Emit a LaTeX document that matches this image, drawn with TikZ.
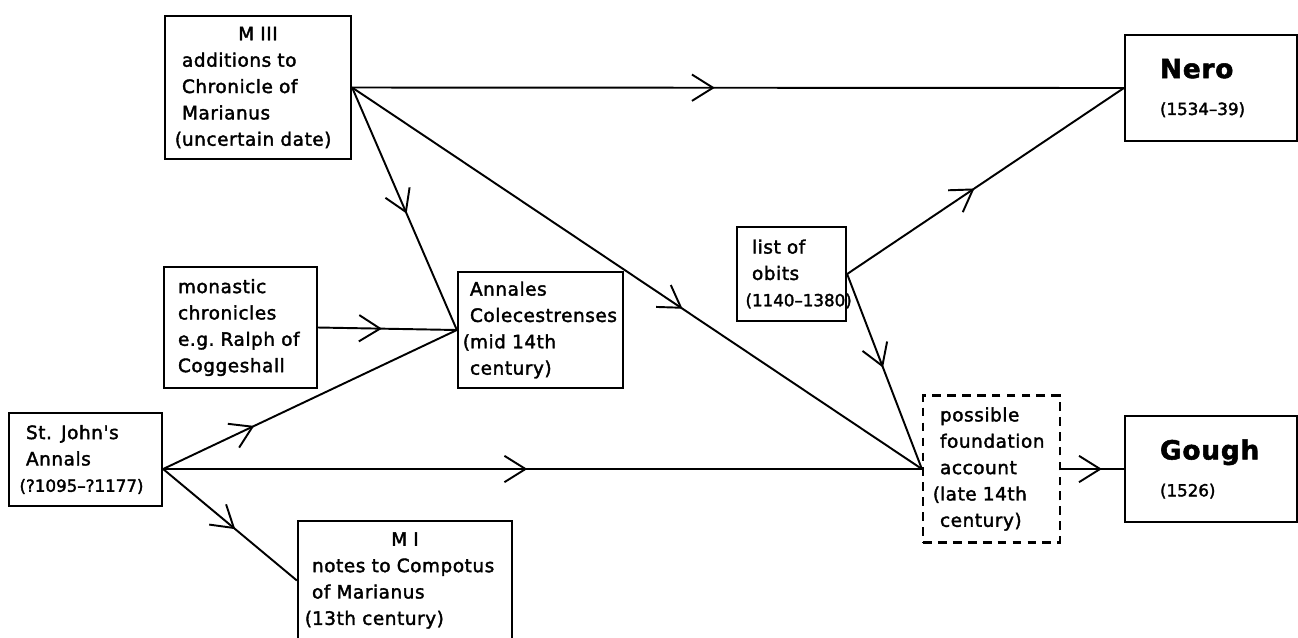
\documentclass[tikz,border=0pt]{standalone}
\usepackage{fontspec}
\newfontfamily\lettering{DejaVu Sans}[LetterSpace=3.0, FakeBold=2]
\usetikzlibrary{arrows.meta,decorations.markings}
\newcommand{\hangparen}{\leavevmode\llap{(}}
\newcommand{\dates}[1]{\mbox{\addfontfeature{LetterSpace=0}\fontsize{9.5}{15}\selectfont#1}}
\tikzset{
  srcbox/.style={draw, line width=1.3pt, align=left, inner ysep=0pt,
    font=\lettering\fontsize{10.5}{15}\selectfont},
  lostbox/.style={srcbox, dash pattern=on 5pt off 3.5pt},
  link/.style={line width=1.1pt},
  midarrow/.style={decoration={markings,
    mark=at position #1 with {\arrow{Straight Barb[length=12pt,width=15pt]}}},
    postaction={decorate}},
}
\begin{document}
\begin{tikzpicture}[x=0.02cm, y=-0.02cm]
\useasboundingbox (0,0) rectangle (1298,637);
% the sources
\node[srcbox, inner xsep=0.34cm, text width=3.04cm, minimum height=2.86cm] (m3) at (258,87.5)
  {\makebox[\hsize]{M III}\\additions to\\Chronicle of\\Marianus\\\hangparen\mbox{uncertain date)}};
\node[srcbox, inner xsep=0.28cm, text width=2.50cm, minimum height=2.42cm] (mon) at (240.5,327.5)
  {monastic\\chronicles\\e.g.\ Ralph of\\Coggeshall};
\node[srcbox, inner xsep=0.24cm, text width=2.82cm, minimum height=2.32cm] (ann) at (540.5,330)
  {Annales\\Colecestrenses\\\hangparen mid 14th\\century)};
\node[srcbox, inner xsep=0.30cm, text width=1.58cm, minimum height=1.88cm] (ob) at (791.5,274)
  {list of\\obits\\\dates{\llap{(}1140–1380)}};
\node[srcbox, inner xsep=0.34cm, text width=2.38cm, minimum height=1.86cm] (sj) at (85.5,459.5)
  {St. John's\\Annals\\\dates{\llap{(}?1095–?1177)}};
\node[srcbox, inner xsep=0.28cm, text width=3.72cm, minimum height=2.38cm] (m1) at (405,580.5)
  {\makebox[\hsize]{M I}\\notes to Compotus\\of Marianus\\\hangparen 13th century)};
\node[lostbox, inner xsep=0.34cm, text width=2.06cm, minimum height=2.94cm] (fa) at (991.5,469)
  {possible\\foundation\\account\\\hangparen late 14th\\century)};
% the two texts
\node[srcbox, inner xsep=0.7cm, text width=2.04cm, minimum height=2.12cm] (nero) at (1211,88)
  {{\fontsize{15}{18}\selectfont\bfseries Nero}\\[6pt]\dates{(1534–39)}};
\node[srcbox, inner xsep=0.7cm, text width=2.04cm, minimum height=2.12cm] (gough) at (1211,469)
  {{\fontsize{15}{18}\selectfont\bfseries Gough}\\[6pt]\dates{(1526)}};
\coordinate (sjout) at (sj.east |- fa.west);
% links
\draw[link, midarrow=0.47] (m3.east) -- (nero.west);
\draw[link, midarrow=0.52] (m3.east) -- (ann.west);
\draw[link, midarrow=0.58] (m3.east) -- (fa.west);
\draw[link, midarrow=0.46] (mon.east) -- (ann.west);
\draw[link, midarrow=0.31] (sjout) -- (ann.west);
\draw[link, midarrow=0.48] (sjout) -- (fa.west);
\draw[link, midarrow=0.54] (sjout) -- (m1.west);
\draw[link, midarrow=0.46] (ob.east) -- (nero.west);
\draw[link, midarrow=0.48] (ob.east) -- (fa.west);
\draw[link, midarrow=0.65] (fa.east) -- (gough.west);
\end{tikzpicture}
\end{document}
